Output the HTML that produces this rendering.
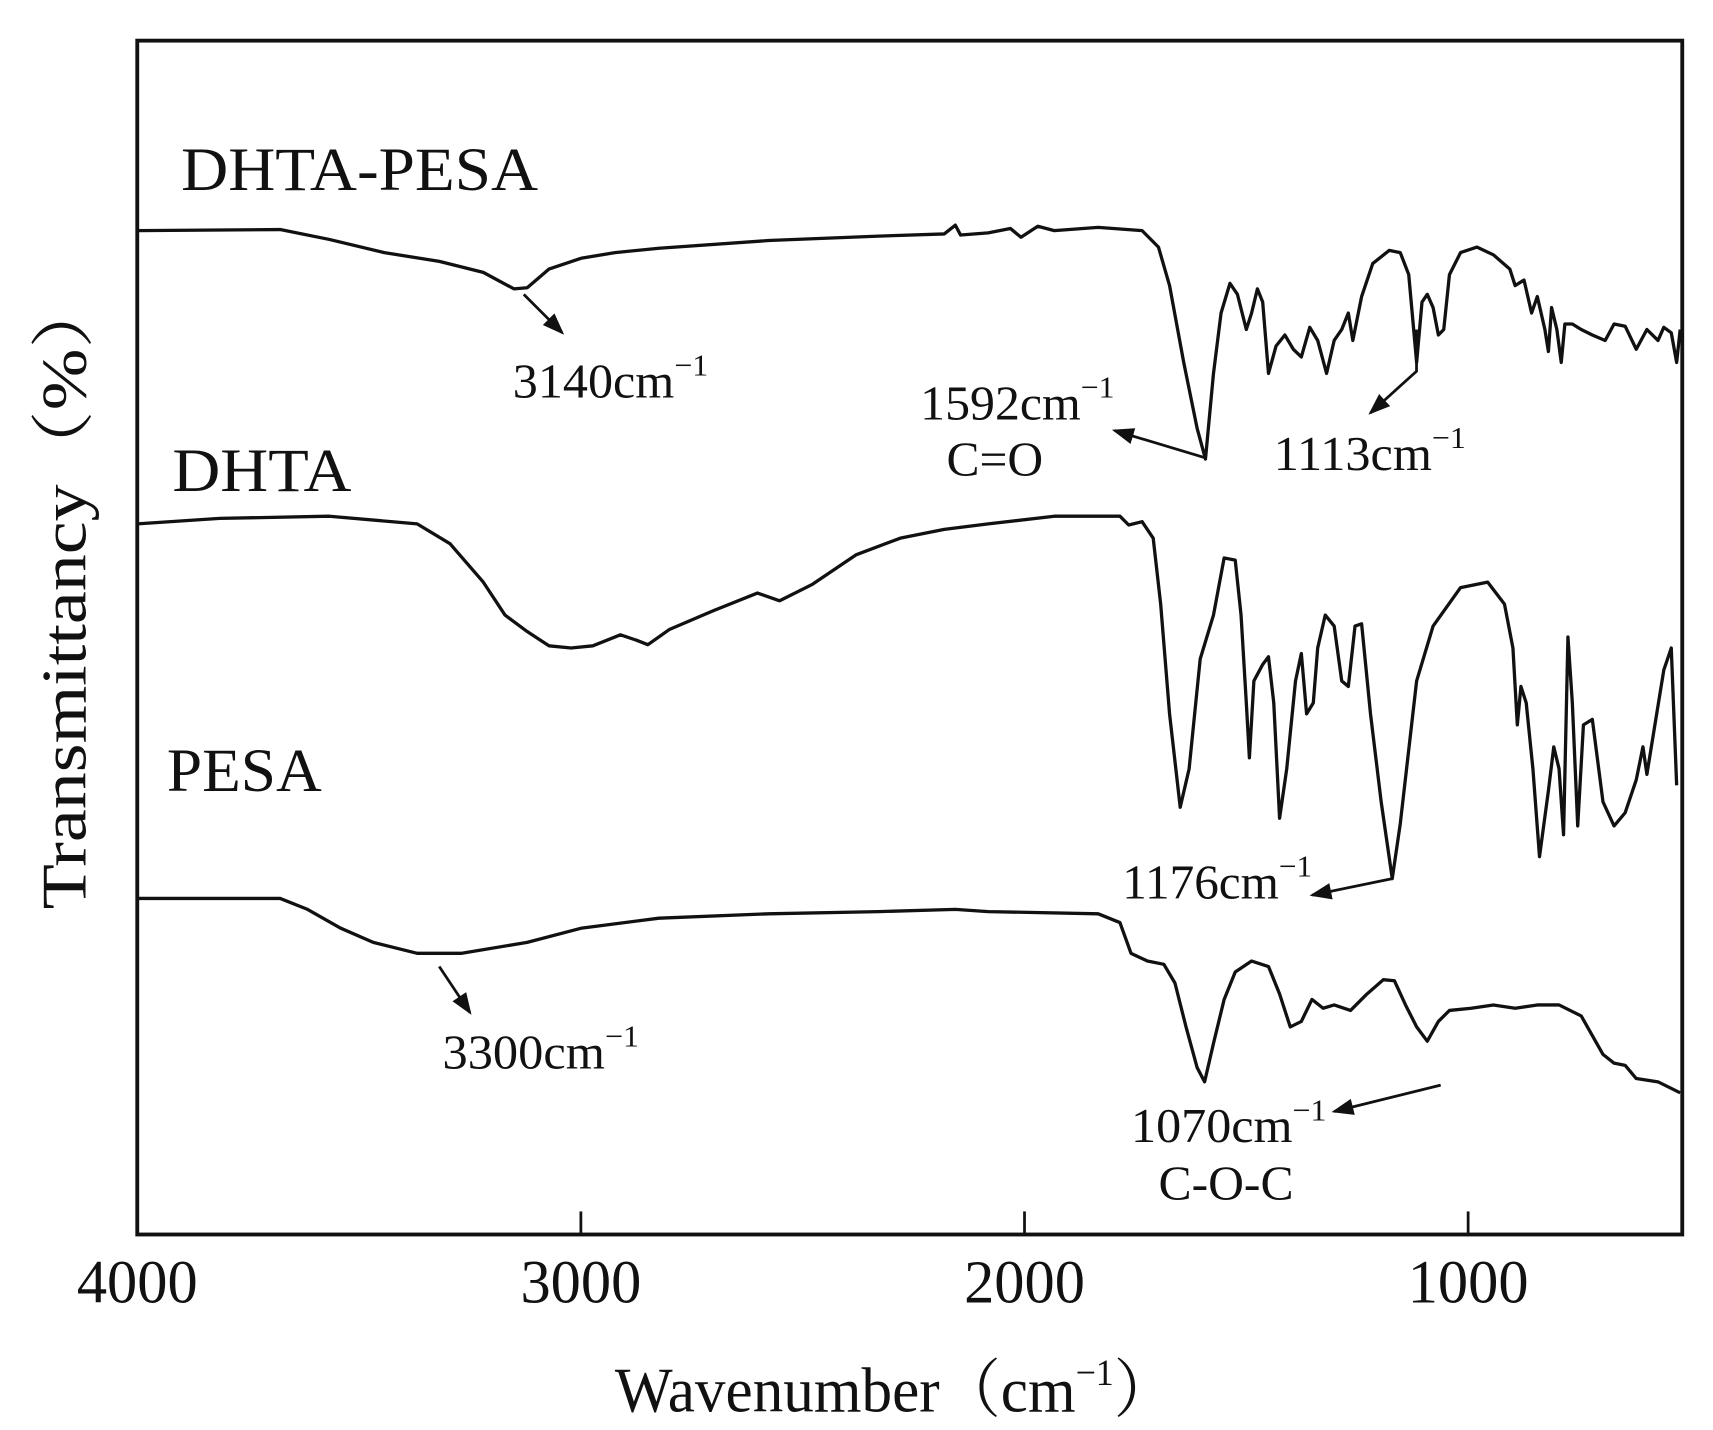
<!DOCTYPE html>
<html><head><meta charset="utf-8"><style>
html,body{margin:0;padding:0;background:#fff;}
svg{display:block;}
text{font-family:"Liberation Serif","Noto Serif CJK SC",serif;fill:#111;}
</style></head><body>
<svg id="chart" width="1713" height="1430" viewBox="0 0 1560 1302" preserveAspectRatio="none" xmlns="http://www.w3.org/2000/svg">
<rect x="0" y="0" width="1560" height="1302" fill="#fff"/>
<g id="plot"></g>
<rect x="125" y="37" width="1407" height="1087" fill="none" stroke="#111" stroke-width="3.5"/>
<g id="ticks"></g>
<text x="560" y="1285" font-size="58" textLength="510" lengthAdjust="spacingAndGlyphs">Wavenumber（cm<tspan font-size="34" dy="-24">−1</tspan><tspan dy="24">）</tspan></text>
<text transform="translate(78,828) rotate(-90)" font-size="58" textLength="578" lengthAdjust="spacingAndGlyphs">Transmittancy（%）</text>
<text x="165" y="173" font-size="56" textLength="325" lengthAdjust="spacingAndGlyphs">DHTA-PESA</text>
<text x="157" y="447" font-size="56" textLength="163" lengthAdjust="spacingAndGlyphs">DHTA</text>
<text x="152" y="720" font-size="56" textLength="141" lengthAdjust="spacingAndGlyphs">PESA</text>
<g font-size="44" id="annots">
<text x="467" y="362" textLength="178" lengthAdjust="spacingAndGlyphs">3140cm<tspan font-size="28" dy="-20">−1</tspan></text>
<text x="838" y="382" textLength="177" lengthAdjust="spacingAndGlyphs">1592cm<tspan font-size="28" dy="-20">−1</tspan></text>
<text x="862" y="433" textLength="88" lengthAdjust="spacingAndGlyphs">C=O</text>
<text x="1160" y="428" textLength="175" lengthAdjust="spacingAndGlyphs">1113cm<tspan font-size="28" dy="-20">−1</tspan></text>
<text x="1022" y="818" textLength="173" lengthAdjust="spacingAndGlyphs">1176cm<tspan font-size="28" dy="-20">−1</tspan></text>
<text x="403" y="973" textLength="179" lengthAdjust="spacingAndGlyphs">3300cm<tspan font-size="28" dy="-20">−1</tspan></text>
<text x="1030" y="1040" textLength="178" lengthAdjust="spacingAndGlyphs">1070cm<tspan font-size="28" dy="-20">−1</tspan></text>
<text x="1055" y="1092" textLength="123" lengthAdjust="spacingAndGlyphs">C-O-C</text>
</g>
<defs><marker id="ah" markerWidth="8" markerHeight="8" refX="7" refY="4" orient="auto" markerUnits="strokeWidth"><path d="M0,1 L8,4 L0,7 Z" fill="#111"/></marker></defs>
<g stroke="#111" stroke-width="2.5" fill="none">
<path d="M477,268 L512,303" marker-end="url(#ah)"/>
<path d="M1098,417 L1015,392" marker-end="url(#ah)"/>
<path d="M1290,300 L1290,338 L1248,376" marker-end="url(#ah)"/>
<path d="M1268,800 L1195,815" marker-end="url(#ah)"/>
<path d="M400,880 L428,922" marker-end="url(#ah)"/>
<path d="M1312,988 L1215,1012" marker-end="url(#ah)"/>
</g>
</svg>
<script>
const xTicks = [4000, 3000, 2000, 1000];
const wnTop = [4000,3678,3567,3443,3319,3220,3151,3121,3072,2998,2923,2824,2577,2329,2181,2156,2144,2082,2032,2008,1970,1933,1834,1735,1698,1673,1641,1611,1592,1574,1557,1537,1520,1500,1488,1475,1463,1450,1433,1413,1394,1376,1357,1339,1319,1302,1285,1270,1260,1240,1215,1178,1153,1134,1116,1104,1092,1079,1067,1055,1042,1017,980,943,906,894,874,857,844,827,819,812,800,790,782,765,745,720,691,671,646,621,597,572,559,542,530,522];
const tTop = [91.4,91.5,90.6,89.4,88.6,87.6,86.1,86.2,87.9,88.9,89.4,89.8,90.5,90.9,91.1,91.9,91.0,91.2,91.6,90.8,91.8,91.4,91.7,91.4,89.9,86.4,79.4,73.4,70.6,78.4,83.9,86.6,85.6,82.4,83.9,86.1,84.9,78.4,80.9,81.9,80.6,79.9,82.6,81.4,78.4,81.4,82.4,83.9,81.4,85.4,88.4,89.6,89.4,87.4,79.4,84.9,85.6,84.4,81.9,82.4,87.4,89.4,89.9,89.2,87.9,86.4,86.9,83.9,85.4,82.4,80.4,84.4,82.4,79.4,82.9,82.9,82.4,81.9,81.4,82.9,82.7,80.6,82.4,81.4,82.6,82.1,79.4,82.4];
const wnMid = [4000,3814,3567,3369,3295,3220,3171,3121,3072,3022,2973,2911,2874,2849,2800,2701,2602,2552,2478,2379,2280,2181,2082,1933,1785,1765,1735,1710,1693,1673,1649,1629,1604,1574,1550,1525,1512,1500,1493,1483,1463,1450,1438,1425,1409,1389,1376,1364,1349,1339,1322,1302,1285,1270,1255,1240,1220,1196,1171,1153,1116,1079,1017,956,918,899,889,881,869,854,839,819,807,795,785,775,765,753,740,720,696,671,646,621,606,597,577,559,542,530];
const tMid = [64.7,65.2,65.4,64.7,62.9,59.4,56.4,54.9,53.6,53.4,53.6,54.6,54.1,53.7,55.1,56.8,58.4,57.7,59.2,61.9,63.4,64.2,64.7,65.4,65.4,64.6,64.9,63.4,57.4,47.4,38.9,42.4,52.4,56.4,61.6,61.4,56.4,48.4,43.4,50.4,51.9,52.6,48.4,37.9,42.4,50.4,52.9,47.4,48.4,53.4,56.4,55.4,50.4,49.9,55.4,55.6,47.4,39.4,32.4,37.4,50.4,55.4,58.9,59.4,57.4,53.4,46.4,49.9,48.4,42.4,34.4,40.4,44.4,42.4,36.4,54.4,48.4,37.2,46.4,46.9,39.4,37.2,38.4,41.4,44.4,41.9,46.9,51.4,53.4,40.9];
const wnBot = [4000,3814,3678,3616,3542,3468,3369,3270,3121,2998,2824,2577,2329,2156,2082,1834,1785,1760,1723,1686,1661,1636,1611,1594,1574,1550,1525,1488,1450,1425,1401,1376,1352,1327,1302,1265,1228,1191,1166,1141,1116,1092,1067,1042,993,943,894,844,795,745,696,671,646,621,572,522];
const tBot = [30.6,30.6,30.6,29.6,27.9,26.6,25.6,25.6,26.6,27.9,28.8,29.2,29.4,29.6,29.4,29.2,28.4,25.6,24.9,24.6,22.9,18.9,15.2,13.9,17.4,21.4,23.9,24.9,24.4,21.9,18.9,19.4,21.4,20.6,20.9,20.4,21.9,23.2,23.1,20.9,18.9,17.6,19.4,20.4,20.6,20.9,20.6,20.9,20.9,19.9,16.4,15.6,15.4,14.2,13.9,12.9];

const NS = 'http://www.w3.org/2000/svg';
function xScale(w){ return 125 + (4000 - w) * 0.404; }
function yScale(t){ return 1124 - t * 10; }

const plot = document.getElementById('plot');
function drawSeries(wn, t, name){
  let d = '';
  for (let i = 0; i < wn.length; i++) d += (i ? 'L' : 'M') + xScale(wn[i]).toFixed(1) + ',' + yScale(t[i]).toFixed(1);
  const p = document.createElementNS(NS, 'path');
  p.setAttribute('d', d);
  p.setAttribute('fill', 'none');
  p.setAttribute('stroke', '#111');
  p.setAttribute('stroke-width', '3');
  p.setAttribute('stroke-linejoin', 'round');
  
  
  plot.appendChild(p);
}
drawSeries(wnTop, tTop, 'series-dhta-pesa');
drawSeries(wnMid, tMid, 'series-dhta');
drawSeries(wnBot, tBot, 'series-pesa');

const ticks = document.getElementById('ticks');
xTicks.forEach(function(v){
  const x = xScale(v);
  if (v !== 4000) {
    const l = document.createElementNS(NS, 'line');
    l.setAttribute('x1', x); l.setAttribute('x2', x);
    l.setAttribute('y1', 1124); l.setAttribute('y2', 1103);
    l.setAttribute('stroke', '#111'); l.setAttribute('stroke-width', '2.5');
    
    
    ticks.appendChild(l);
  }
  const tx = document.createElementNS(NS, 'text');
  tx.setAttribute('x', x); tx.setAttribute('y', 1186);
  tx.setAttribute('font-size', '56'); tx.setAttribute('text-anchor', 'middle');
  tx.setAttribute('textLength', '110'); tx.setAttribute('lengthAdjust', 'spacingAndGlyphs');
  tx.textContent = v;
  
  
  ticks.appendChild(tx);
});
</script>
</body></html>
